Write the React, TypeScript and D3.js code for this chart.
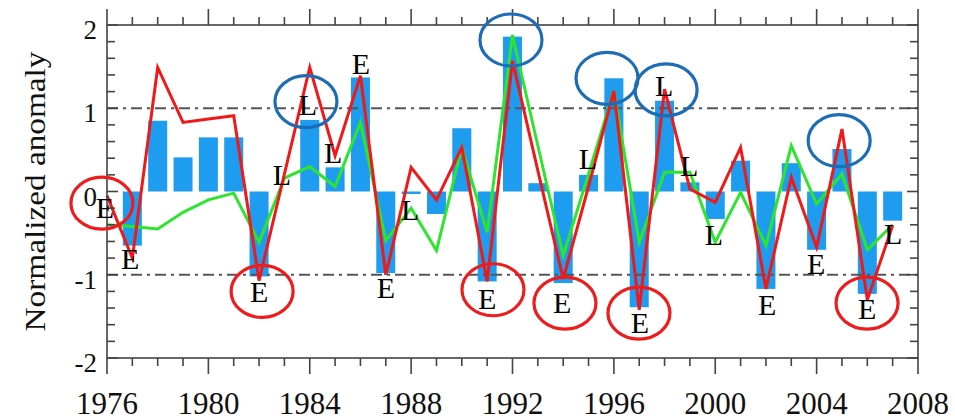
import React from 'react';
import * as d3 from 'd3';

// years covered by the lines
const years = [1976, 1977, 1978, 1979, 1980, 1981, 1982, 1983, 1984, 1985, 1986, 1987, 1988, 1989, 1990, 1991,
  1992, 1993, 1994, 1995, 1996, 1997, 1998, 1999, 2000, 2001, 2002, 2003, 2004, 2005, 2006, 2007];

// bars start one year later
const barYears = years.slice(1);
const barValues = [-0.65, 0.85, 0.41, 0.65, 0.65, -1.02, 0.0, 0.86, 0.29, 1.37, -0.98, -0.03, -0.27, 0.76, -1.08,
  1.86, 0.1, -1.1, 0.2, 1.36, -1.39, 1.09, 0.11, -0.33, 0.37, -1.17, 0.34, -0.7, 0.51, -1.23, -0.35];

const redValues = [-0.05, -0.8, 1.49, 0.83, 0.87, 0.91, -1.07, 0.21, 1.49, 0.43, 1.39, -1.0, 0.29, -0.1, 0.53, -1.08,
  1.57, 0.25, -1.05, 0.06, 1.21, -1.42, 1.23, 0.03, -0.13, 0.53, -1.17, 0.17, -0.67, 0.75, -1.3, -0.41];

const greenValues = [-0.4, -0.42, -0.45, -0.25, -0.1, -0.02, -0.61, 0.16, 0.3, 0.06, 0.83, -0.59, -0.2, -0.71, 0.53, -0.49,
  1.88, 0.55, -0.77, 0.21, 1.21, -0.61, 0.23, 0.23, -0.61, -0.01, -0.65, 0.55, -0.15, 0.21, -0.7, -0.4];

const xTickLabels = ['1976', '1980', '1984', '1988', '1992', '1996', '2000', '2004', '2008'];
const yTickLabels = ['-2', '-1', '0', '1', '2'];

// E / L annotations, placed in data units (year, anomaly)
const markYears = [1975.92, 1976.91, 1982.0, 1982.9, 1983.93, 1984.92, 1986.02, 1987.01, 1987.96, 1991.0,
  1993.96, 1994.98, 1997.03, 1997.98, 1998.97, 1999.95, 2002.05, 2003.98, 2005.99, 2007.02];
const markValues = [-0.19, -0.81, -1.2, 0.2, 1.05, 0.47, 1.54, -1.15, -0.22, -1.28,
  -1.33, 0.4, -1.57, 1.27, 0.31, -0.52, -1.36, -0.86, -1.4, -0.5];
const markTexts = ['E', 'E', 'E', 'L', 'L', 'L', 'E', 'E', 'L', 'E',
  'E', 'L', 'E', 'L', 'L', 'L', 'E', 'E', 'E', 'L'];

// highlighted events
const ringYears = [1975.8, 1982.12, 1991.23, 1994.07, 1996.99, 2005.99, 1983.85, 1991.94, 1995.73, 1998.06, 2004.89];
const ringValues = [-0.14, -1.2, -1.18, -1.34, -1.46, -1.34, 1.08, 1.82, 1.36, 1.22, 0.61];
const ringKinds = ['E', 'E', 'E', 'E', 'E', 'E', 'L', 'L', 'L', 'L', 'L'];

const W = 955;
const H = 420;
const FONT = '"Liberation Serif", "DejaVu Serif", serif';

const App = () => {
  const x = d3.scaleLinear().domain([1976, 2008]).range([107, 918]);
  const y = d3.scaleLinear().domain([-2, 2]).range([358, 25]);
  const barW = x(1976.75) - x(1976);

  const line = d3.line<number>()
    .x((d, i) => x(years[i]))
    .y(d => y(d));

  const yearTicks = d3.range(1976, 2009);
  const minorY = d3.range(-2, 2.001, 0.2);
  const [x0, x1] = x.range();
  const [yb, yt] = y.range();

  return (
    <svg width={W} height={H} style={{ position: 'absolute', left: 0, top: 0, background: '#fff' }}>
      {/* bars */}
      {barValues.map((v, i) => (
        <rect key={'b' + i}
          x={x(barYears[i]) - barW / 2}
          y={Math.min(y(v), y(0))}
          width={barW}
          height={Math.abs(y(v) - y(0))}
          fill="#1e9cf0" />
      ))}

      {/* reference lines */}
      {[1, -1].map(v => (
        <line key={'r' + v} x1={x0} x2={x1} y1={y(v)} y2={y(v)}
          stroke="#555" strokeWidth={2} strokeDasharray="11,5,3,5" />
      ))}

      <path d={line(greenValues) || ''} fill="none" stroke="#2ee52e" strokeWidth={3} strokeLinejoin="miter" />
      <path d={line(redValues) || ''} fill="none" stroke="#f01818" strokeWidth={3} strokeLinejoin="miter" />

      {/* frame */}
      <rect x={x0} y={yt} width={x1 - x0} height={yb - yt} fill="none" stroke="#444" strokeWidth={1.6} />
      {yearTicks.map(t => {
        const major = (t - 1976) % 4 === 0;
        const len = major ? 16 : 8;
        return (
          <g key={'xt' + t} stroke="#444" strokeWidth={1.6}>
            <line x1={x(t)} x2={x(t)} y1={yb} y2={yb + len} />
            <line x1={x(t)} x2={x(t)} y1={yt} y2={yt - len} />
          </g>
        );
      })}
      {minorY.map((v, i) => {
        const major = i % 5 === 0;
        const len = major ? 11 : 8;
        return (
          <g key={'yt' + i} stroke="#444" strokeWidth={1.6}>
            <line x1={x0} x2={x0 + len} y1={y(v)} y2={y(v)} />
            <line x1={x1} x2={x1 - len} y1={y(v)} y2={y(v)} />
          </g>
        );
      })}

      {/* tick labels */}
      {xTickLabels.map(t => (
        <text key={'xl' + t} x={x(+t)} y={414} textAnchor="middle" fontFamily={FONT} fontSize={31} fill="#111">{t}</text>
      ))}
      {yTickLabels.map(t => (
        <text key={'yl' + t} x={97} y={y(+t) + 5} textAnchor="end" dominantBaseline="central"
          fontFamily={FONT} fontSize={27} fill="#111">{t}</text>
      ))}

      <text transform={`translate(34,${(yt + yb) / 2}) rotate(-90)`} textAnchor="middle" dominantBaseline="central"
        fontFamily={FONT} fontSize={30} textLength={280} lengthAdjust="spacingAndGlyphs" fill="#111">Normalized anomaly</text>

      {/* E / L marks */}
      {markTexts.map((t, i) => (
        <text key={'m' + i} x={x(markYears[i])} y={y(markValues[i])} textAnchor="middle" dominantBaseline="central"
          fontFamily={FONT} fontSize={30} fill="#000">{t}</text>
      ))}

      {ringKinds.map((k, i) => (
        <ellipse key={'c' + i} cx={x(ringYears[i])} cy={y(ringValues[i])} rx={31} ry={26}
          fill="none" stroke={k === 'E' ? '#ee1c1c' : '#1c6db5'} strokeWidth={3.2} />
      ))}
    </svg>
  );
};

export default App;
